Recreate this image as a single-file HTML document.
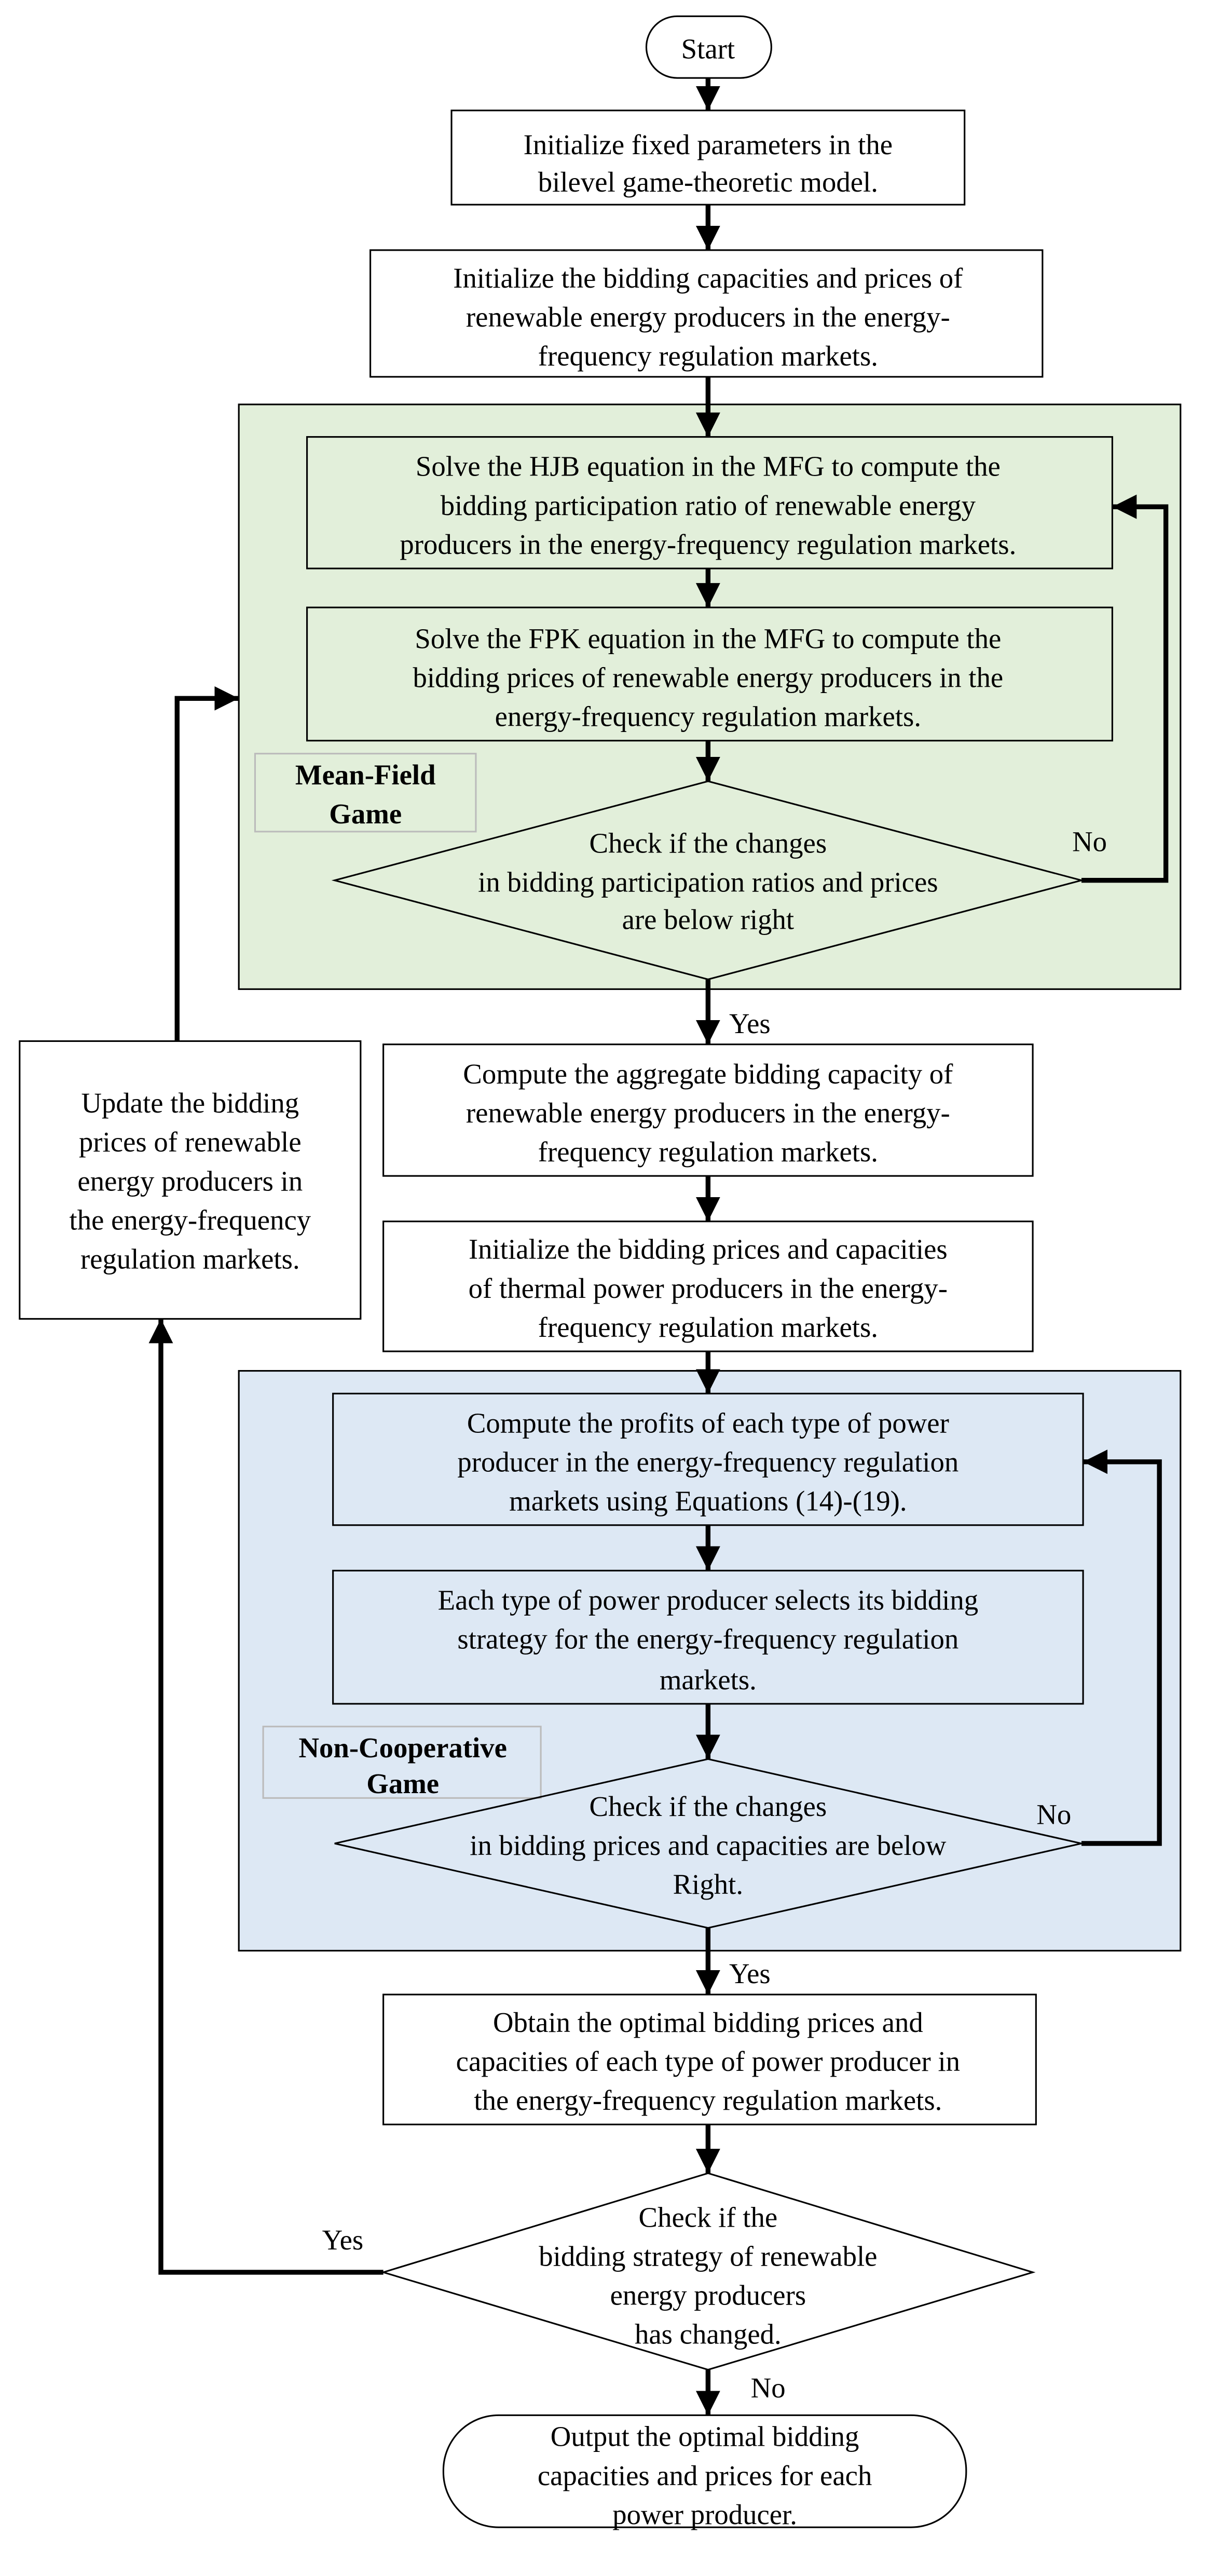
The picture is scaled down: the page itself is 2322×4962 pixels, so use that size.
<!DOCTYPE html>
<html><head><meta charset="utf-8"><style>
html,body{margin:0;padding:0;background:#fff;}
svg{display:block;}
text{font-family:"Liberation Serif",serif;font-size:17.5px;fill:#000;text-anchor:middle;}
.b{font-weight:bold;}
.l{text-anchor:start;}
</style></head><body>
<svg width="2322" height="4962" viewBox="0 0 742 1586" xmlns="http://www.w3.org/2000/svg">
<defs><marker id="a" viewBox="0 0 10 10" refX="10" refY="5" markerWidth="5" markerHeight="5.5" orient="auto" markerUnits="strokeWidth"><path d="M0,0 L10,5 L0,10 z" fill="#000"/></marker></defs>
<rect width="742" height="1586" fill="#fff"/>
<!-- regions -->
<rect x="147" y="249" width="580" height="360" fill="#e2efda" stroke="#000" stroke-width="1"/>
<rect x="147" y="844" width="580" height="357" fill="#dde8f4" stroke="#000" stroke-width="1"/>
<g fill="none" stroke="#000" stroke-width="1">
<rect x="398" y="10" width="77" height="38" rx="19"/>
<rect x="278" y="68" width="316" height="58" fill="#fff"/>
<rect x="228" y="154" width="414" height="78" fill="#fff"/>
<rect x="189" y="269" width="496" height="81"/>
<rect x="189" y="374" width="496" height="82"/>
<rect x="157" y="464" width="136" height="48" stroke="#bbb"/>
<polygon points="206,542 436,481 666,542 436,603"/>
<rect x="236" y="643" width="400" height="81" fill="#fff"/>
<rect x="236" y="752" width="400" height="80" fill="#fff"/>
<rect x="205" y="858" width="462" height="81"/>
<rect x="205" y="967" width="462" height="82"/>
<rect x="162" y="1063" width="171" height="44" stroke="#bbb"/>
<polygon points="206,1135 436,1083 666,1135 436,1187"/>
<rect x="236" y="1228" width="402" height="80" fill="#fff"/>
<polygon points="236,1399 436,1338 636,1399 436,1459" fill="#fff"/>
<rect x="12" y="641" width="210" height="171" fill="#fff"/>
<rect x="273" y="1487" width="322" height="69" rx="34" fill="#fff"/>
</g>
<g fill="none" stroke="#000" stroke-width="3" marker-end="url(#a)">
<line x1="436" y1="48" x2="436" y2="68"/>
<line x1="436" y1="126" x2="436" y2="154"/>
<line x1="436" y1="232" x2="436" y2="269"/>
<line x1="436" y1="350" x2="436" y2="374"/>
<line x1="436" y1="456" x2="436" y2="481"/>
<polyline points="666,542 718,542 718,312 685,312"/>
<line x1="436" y1="603" x2="436" y2="643"/>
<line x1="436" y1="724" x2="436" y2="752"/>
<line x1="436" y1="832" x2="436" y2="858"/>
<line x1="436" y1="939" x2="436" y2="967"/>
<line x1="436" y1="1049" x2="436" y2="1083"/>
<polyline points="666,1135 714,1135 714,900 667,900"/>
<line x1="436" y1="1187" x2="436" y2="1228"/>
<line x1="436" y1="1308" x2="436" y2="1338"/>
<polyline points="236,1399 99,1399 99,812"/>
<polyline points="109,641 109,430 147,430"/>
<line x1="436" y1="1459" x2="436" y2="1487"/>
</g>
<text x="436" y="36">Start</text>
<text x="436" y="95">Initialize fixed parameters in the</text>
<text x="436" y="118">bilevel game-theoretic model.</text>
<text x="436" y="177">Initialize the bidding capacities and prices of</text>
<text x="436" y="201">renewable energy producers in the energy-</text>
<text x="436" y="225">frequency regulation markets.</text>
<text x="436" y="293">Solve the HJB equation in the MFG to compute the</text>
<text x="436" y="317">bidding participation ratio of renewable energy</text>
<text x="436" y="341">producers in the energy-frequency regulation markets.</text>
<text x="436" y="399">Solve the FPK equation in the MFG to compute the</text>
<text x="436" y="423">bidding prices of renewable energy producers in the</text>
<text x="436" y="447">energy-frequency regulation markets.</text>
<text x="225" y="483" class="b">Mean-Field</text>
<text x="225" y="507" class="b">Game</text>
<text x="436" y="525">Check if the changes</text>
<text x="436" y="549">in bidding participation ratios and prices</text>
<text x="436" y="572">are below right</text>
<text x="671" y="524">No</text>
<text x="449" y="636" class="l">Yes</text>
<text x="436" y="667">Compute the aggregate bidding capacity of</text>
<text x="436" y="691">renewable energy producers in the energy-</text>
<text x="436" y="715">frequency regulation markets.</text>
<text x="436" y="775">Initialize the bidding prices and capacities</text>
<text x="436" y="799">of thermal power producers in the energy-</text>
<text x="436" y="823">frequency regulation markets.</text>
<text x="436" y="882">Compute the profits of each type of power</text>
<text x="436" y="906">producer in the energy-frequency regulation</text>
<text x="436" y="930">markets using Equations (14)-(19).</text>
<text x="436" y="991">Each type of power producer selects its bidding</text>
<text x="436" y="1015">strategy for the energy-frequency regulation</text>
<text x="436" y="1040">markets.</text>
<text x="248" y="1082" class="b">Non-Cooperative</text>
<text x="248" y="1104" class="b">Game</text>
<text x="436" y="1118">Check if the changes</text>
<text x="436" y="1142">in bidding prices and capacities are below</text>
<text x="436" y="1166">Right.</text>
<text x="649" y="1123">No</text>
<text x="449" y="1221" class="l">Yes</text>
<text x="436" y="1251">Obtain the optimal bidding prices and</text>
<text x="436" y="1275">capacities of each type of power producer in</text>
<text x="436" y="1299">the energy-frequency regulation markets.</text>
<text x="436" y="1371">Check if the</text>
<text x="436" y="1395">bidding strategy of renewable</text>
<text x="436" y="1419">energy producers</text>
<text x="436" y="1443">has changed.</text>
<text x="211" y="1385">Yes</text>
<text x="473" y="1476">No</text>
<text x="117" y="685">Update the bidding</text>
<text x="117" y="709">prices of renewable</text>
<text x="117" y="733">energy producers in</text>
<text x="117" y="757">the energy-frequency</text>
<text x="117" y="781">regulation markets.</text>
<text x="434" y="1506">Output the optimal bidding</text>
<text x="434" y="1530">capacities and prices for each</text>
<text x="434" y="1554">power producer.</text>
</svg>
</body></html>
